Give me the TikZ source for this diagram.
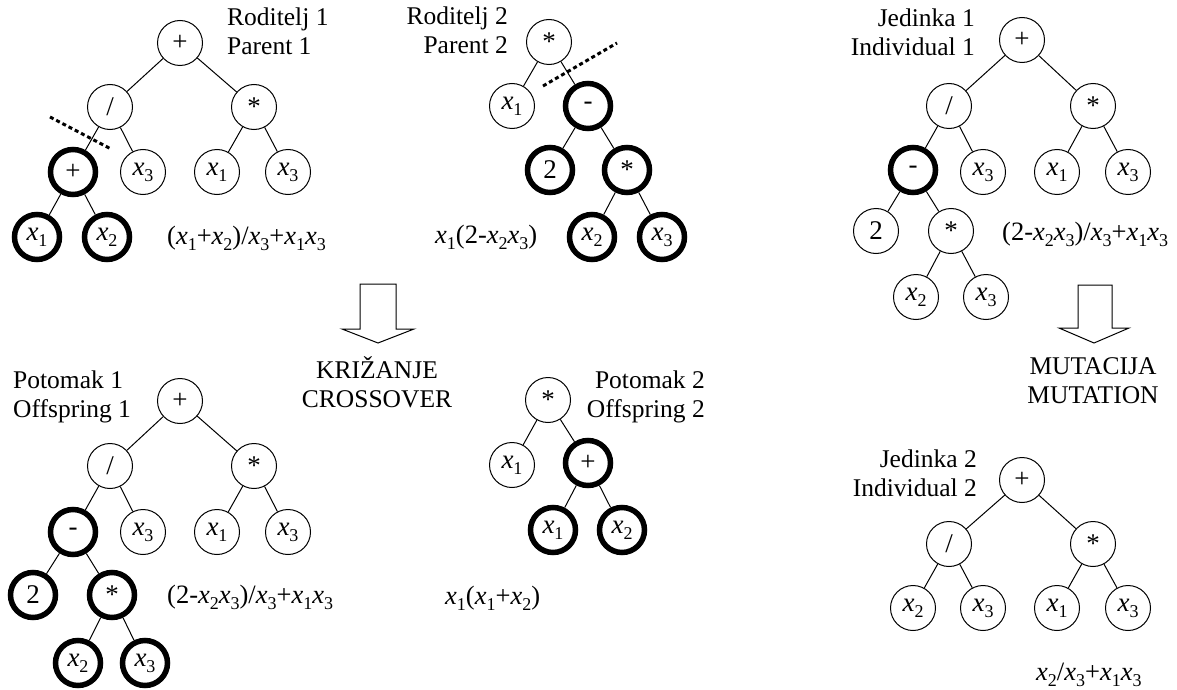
\documentclass[tikz,border=0pt]{standalone}
\usepackage{fontspec}
\setmainfont{Liberation Serif}
\newcommand{\vx}[1]{\textit{x}\raisebox{-0.22em}{\fontsize{18}{18}\selectfont #1}}
\begin{document}
\begin{tikzpicture}[x=1pt,y=-1pt,
  tn/.style={circle,draw,line width=1pt,minimum size=45pt,inner sep=0pt,font=\fontsize{27}{29}\selectfont},
  bn/.style={tn,line width=5.5pt},
  edge/.style={line width=1pt},
  cut/.style={line width=3pt,dash pattern=on 4pt off 3pt},
  lbl/.style={inner sep=0pt,font=\fontsize{25.5}{29}\selectfont},
  expr/.style={inner sep=0pt,anchor=west,font=\fontsize{26.5}{29}\selectfont},
  blockarrow/.style={draw,line width=1pt,fill=white}]
\useasboundingbox (0,0) rectangle (1177,690);

% ---------- Parent 1 ----------
\node[tn] (p1r) at (180,43) {+};
\node[tn] (p1a) at (110,107) {/};
\node[tn] (p1b) at (254,107) {*};
\node[bn] (p1c) at (73,172) {+};
\node[tn] (p1d) at (143,172) {\vx{3}};
\node[tn] (p1e) at (217,172) {\vx{1}};
\node[tn] (p1f) at (288,172) {\vx{3}};
\node[bn] (p1g) at (37,237) {\vx{1}};
\node[bn] (p1h) at (107,237) {\vx{2}};
\draw[edge] (p1r)--(p1a) (p1r)--(p1b) (p1a)--(p1c) (p1a)--(p1d) (p1b)--(p1e) (p1b)--(p1f) (p1c)--(p1g) (p1c)--(p1h);
\coordinate (c1a) at (50,117);
\coordinate (c1b) at (111,149);
\draw[cut] (c1a)--(c1b);
\node[lbl,anchor=west,align=left] (l1) at (227,31) {Roditelj 1\\Parent 1};
\node[expr] (e1) at (167,238) {(\vx{1}+\vx{2})/\vx{3}+\vx{1}\vx{3}};

% ---------- Parent 2 ----------
\node[tn] (p2r) at (549,42) {*};
\node[tn] (p2a) at (512,106) {\vx{1}};
\node[bn] (p2b) at (588,106) {-};
\node[bn] (p2c) at (550,170) {2};
\node[bn] (p2d) at (627,170) {*};
\node[bn] (p2e) at (592,237) {\vx{2}};
\node[bn] (p2f) at (662,237) {\vx{3}};
\draw[edge] (p2r)--(p2a) (p2r)--(p2b) (p2b)--(p2c) (p2b)--(p2d) (p2d)--(p2e) (p2d)--(p2f);
\coordinate (c2a) at (543,86);
\coordinate (c2b) at (617,43);
\draw[cut] (c2a)--(c2b);
\node[lbl,anchor=east,align=right] (l2) at (508,30) {Roditelj 2\\Parent 2};
\node[expr] (e2) at (435,237) {\vx{1}(2-\vx{2}\vx{3})};

% ---------- Individual 1 ----------
\node[tn] (j1r) at (1022,40) {+};
\node[tn] (j1a) at (949,106) {/};
\node[tn] (j1b) at (1093,106) {*};
\node[bn] (j1c) at (913,170) {-};
\node[tn] (j1d) at (983,172) {\vx{3}};
\node[tn] (j1e) at (1057,172) {\vx{1}};
\node[tn] (j1f) at (1128,172) {\vx{3}};
\node[tn] (j1g) at (876,231) {2};
\node[tn] (j1h) at (951,231) {*};
\node[tn] (j1i) at (916,297) {\vx{2}};
\node[tn] (j1j) at (986,297) {\vx{3}};
\draw[edge] (j1r)--(j1a) (j1r)--(j1b) (j1a)--(j1c) (j1a)--(j1d) (j1b)--(j1e) (j1b)--(j1f) (j1c)--(j1g) (j1c)--(j1h) (j1h)--(j1i) (j1h)--(j1j);
\node[lbl,anchor=east,align=right] (l3) at (975,32) {Jedinka 1\\Individual 1};
\node[expr] (e3) at (1002,234) {(2-\vx{2}\vx{3})/\vx{3}+\vx{1}\vx{3}};

% ---------- Crossover arrow ----------
\draw[blockarrow] (360,284) -- (396,284) -- (396,329) -- (414,329) -- (378,343) -- (342,329) -- (360,329) -- cycle;
\node[lbl,align=center] (kx) at (377,382) {KRIŽANJE\\CROSSOVER};

% ---------- Mutation arrow ----------
\draw[blockarrow] (1078,285) -- (1112,285) -- (1112,328) -- (1129,328) -- (1094,343) -- (1059,328) -- (1078,328) -- cycle;
\node[lbl,align=center] (mx) at (1093,381) {MUTACIJA\\MUTATION};

% ---------- Offspring 1 ----------
\node[tn] (o1r) at (180,401) {+};
\node[tn] (o1a) at (110,466) {/};
\node[tn] (o1b) at (254,466) {*};
\node[bn] (o1c) at (73,532) {-};
\node[tn] (o1d) at (143,532) {\vx{3}};
\node[tn] (o1e) at (217,532) {\vx{1}};
\node[tn] (o1f) at (288,532) {\vx{3}};
\node[bn] (o1g) at (33,595) {2};
\node[bn] (o1h) at (112,595) {*};
\node[bn] (o1i) at (78,663) {\vx{2}};
\node[bn] (o1j) at (145,663) {\vx{3}};
\draw[edge] (o1r)--(o1a) (o1r)--(o1b) (o1a)--(o1c) (o1a)--(o1d) (o1b)--(o1e) (o1b)--(o1f) (o1c)--(o1g) (o1c)--(o1h) (o1h)--(o1i) (o1h)--(o1j);
\node[lbl,anchor=west,align=left] (l4) at (13,397) {Potomak 1\\Offspring 1};
\node[expr] (e4) at (167,597) {(2-\vx{2}\vx{3})/\vx{3}+\vx{1}\vx{3}};

% ---------- Offspring 2 ----------
\node[tn] (o2r) at (548,400) {*};
\node[tn] (o2a) at (512,465) {\vx{1}};
\node[bn] (o2b) at (588,463) {+};
\node[bn] (o2c) at (553,530) {\vx{1}};
\node[bn] (o2d) at (622,530) {\vx{2}};
\draw[edge] (o2r)--(o2a) (o2r)--(o2b) (o2b)--(o2c) (o2b)--(o2d);
\node[lbl,anchor=east,align=right] (l5) at (705,397) {Potomak 2\\Offspring 2};
\node[expr] (e5) at (445,598) {\vx{1}(\vx{1}+\vx{2})};

% ---------- Individual 2 ----------
\node[tn] (j2r) at (1022,480) {+};
\node[tn] (j2a) at (949,544) {/};
\node[tn] (j2b) at (1093,544) {*};
\node[tn] (j2c) at (913,608) {\vx{2}};
\node[tn] (j2d) at (983,608) {\vx{3}};
\node[tn] (j2e) at (1057,608) {\vx{1}};
\node[tn] (j2f) at (1128,608) {\vx{3}};
\draw[edge] (j2r)--(j2a) (j2r)--(j2b) (j2a)--(j2c) (j2a)--(j2d) (j2b)--(j2e) (j2b)--(j2f);
\node[lbl,anchor=east,align=right] (l6) at (977,473) {Jedinka 2\\Individual 2};
\node[expr] (e6) at (1036,675) {\vx{2}/\vx{3}+\vx{1}\vx{3}};
\end{tikzpicture}
\end{document}
